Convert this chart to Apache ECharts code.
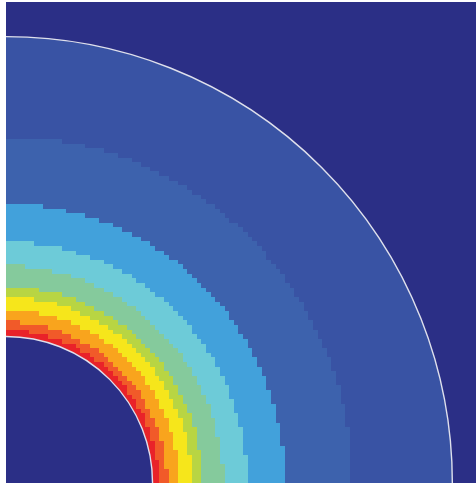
<!DOCTYPE html>
<html>
<head>
<meta charset="utf-8">
<script src="https://cdn.jsdelivr.net/npm/echarts@6/dist/echarts.min.js"></script>
<style>
  html, body { margin: 0; padding: 0; background: #ffffff; }
  #chart { width: 476px; height: 486px; }
</style>
</head>
<body>
<div id="chart"></div>
<script>
// Quarter of a thick-walled ring: inner radius, outer radius, sampling grid step
const innerRadius = 0.985;
const outerRadius = 3.0;
const cellSize = 1 / 32;
const xMax = 3.159;
const yMax = 3.233;

// Radii where the field passes from one contour band to the next (inner to outer)
const bandEdges = [1.028, 1.082, 1.163, 1.250, 1.317, 1.458, 1.620, 1.875, 2.326];
// Band fill colours, highest level (at the bore) first
const bandColors = ['#e92229', '#f15a29', '#f9a41d', '#f6e61b', '#b8d543',
                    '#85ca9c', '#6dcbd8', '#42a1db', '#3d62ad', '#3953a4'];
const backColor = '#2b2f86';
const rimColor = '#dfe0ec';

function bandOf(r) {
  let k = 0;
  while (k < bandEdges.length && r >= bandEdges[k]) k++;
  return k;
}

// Grid cells, merged into horizontal runs of equal band: [x0, x1, y0, band]
const runs = [];
const nCols = Math.ceil(xMax / cellSize);
const nRows = Math.ceil(yMax / cellSize);
for (let j = 0; j < nRows; j++) {
  const yc = (j + 0.5) * cellSize;
  let start = 0;
  let cur = bandOf(Math.hypot(0.5 * cellSize, yc));
  for (let i = 1; i <= nCols; i++) {
    const k = i < nCols ? bandOf(Math.hypot((i + 0.5) * cellSize, yc)) : -1;
    if (k !== cur) {
      runs.push([start * cellSize, i * cellSize, j * cellSize, cur]);
      start = i;
      cur = k;
    }
  }
}

const chart = echarts.init(document.getElementById('chart'), null, { renderer: 'canvas' });

function renderRun(params, api) {
  const x0 = api.value(0), x1 = api.value(1), y0 = api.value(2), k = api.value(3);
  const a = api.coord([x0, y0 + cellSize]);
  const b = api.coord([x1, y0]);
  const l = Math.round(a[0]), t = Math.round(a[1]);
  const r = Math.round(b[0]), btm = Math.round(b[1]);
  return {
    type: 'rect',
    shape: { x: l, y: t, width: r - l, height: btm - t },
    style: { fill: bandColors[k] }
  };
}

function renderRims(params, api) {
  const c = api.coord([0, 0]);
  const rIn = api.size([innerRadius, 0])[0];
  const rOut = api.size([outerRadius, 0])[0];
  return {
    type: 'group',
    children: [
      { type: 'ring', shape: { cx: c[0], cy: c[1], r: 3000, r0: rOut }, style: { fill: backColor } },
      { type: 'circle', shape: { cx: c[0], cy: c[1], r: rIn }, style: { fill: backColor } },
      { type: 'circle', shape: { cx: c[0], cy: c[1], r: rOut }, style: { fill: null, stroke: rimColor, lineWidth: 1.4 } },
      { type: 'circle', shape: { cx: c[0], cy: c[1], r: rIn }, style: { fill: null, stroke: rimColor, lineWidth: 1.4 } }
    ]
  };
}

chart.setOption({
  animation: false,
  grid: { left: 6, right: 0, top: 2, bottom: 3, show: true, backgroundColor: backColor, borderWidth: 0 },
  xAxis: { type: 'value', min: 0, max: xMax, show: false },
  yAxis: { type: 'value', min: 0, max: yMax, show: false },
  series: [
    {
      type: 'custom',
      coordinateSystem: 'cartesian2d',
      renderItem: renderRun,
      data: runs,
      clip: true,
      progressive: 0,
      silent: true
    },
    {
      type: 'custom',
      coordinateSystem: 'cartesian2d',
      renderItem: renderRims,
      data: [[0, 0]],
      clip: true,
      silent: true
    }
  ]
});
</script>
</body>
</html>
